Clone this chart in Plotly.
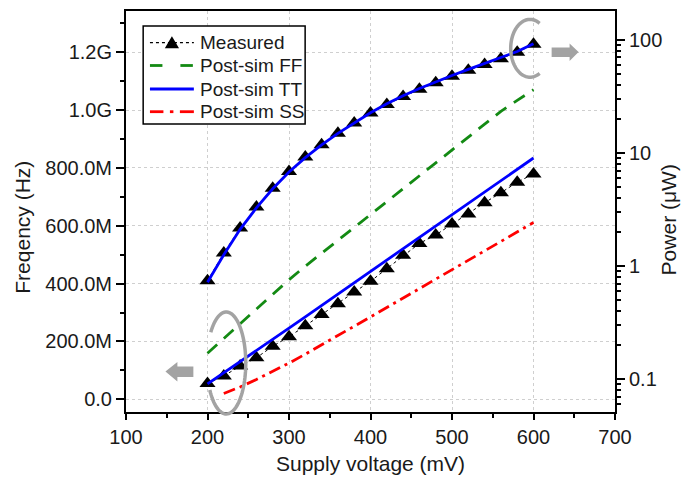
import math
import plotly.graph_objects as go

# ---------------- data ----------------
voltage_mv = [200, 220, 240, 260, 280, 300, 320, 340, 360, 380, 400,
              420, 440, 460, 480, 500, 520, 540, 560, 580, 600]
ss_voltage_mv = voltage_mv[1:]

measured_freq_mhz = [410, 506, 592, 665, 730, 788, 838, 880, 920, 956, 990,
                     1020, 1047, 1072, 1095, 1117, 1138, 1158, 1178, 1200, 1228]
tt_freq_mhz = [405, 500, 588, 662, 728, 786, 836, 880, 920, 957, 991,
               1022, 1050, 1075, 1098, 1120, 1141, 1161, 1181, 1203, 1230]

measured_power_uw = [0.092, 0.107, 0.131, 0.155, 0.196, 0.238, 0.297, 0.375, 0.465, 0.590, 0.735,
                     0.95, 1.25, 1.59, 1.89, 2.36, 2.90, 3.64, 4.46, 5.52, 6.54]
tt_power_uw = [0.091, 0.114, 0.142, 0.178, 0.224, 0.283, 0.357, 0.450, 0.566, 0.714, 0.900,
               1.13, 1.42, 1.78, 2.24, 2.82, 3.56, 4.48, 5.65, 7.15, 9.05]
ff_power_uw = [0.170, 0.229, 0.309, 0.417, 0.562, 0.759, 1.00, 1.30, 1.70, 2.21, 2.88,
               3.76, 4.90, 6.31, 8.22, 10.7, 14.0, 18.2, 23.4, 29.2, 36.3]
ss_power_uw = [0.0749, 0.0855, 0.0996, 0.117, 0.139, 0.167, 0.201, 0.244, 0.296, 0.356,
               0.432, 0.524, 0.635, 0.763, 0.925, 1.12, 1.36, 1.65, 2.00, 2.43]

x_ticks = [100, 200, 300, 400, 500, 600, 700]
freq_tick_vals = [0, 200e6, 400e6, 600e6, 800e6, 1.0e9, 1.2e9]
freq_tick_text = ["0.0", "200.0M", "400.0M", "600.0M", "800.0M", "1.0G", "1.2G"]
power_tick_vals = [0.1, 1, 10, 100]
power_tick_text = ["0.1", "1", "10", "100"]

legend_names = ["Measured", "Post-sim FF", "Post-sim TT", "Post-sim SS"]

# ---------------- layout constants ----------------
W, H = 693, 477
L, R, T, B = 125.5, 615.5, 11, 412
FONT = "Liberation Sans, Arial, sans-serif"
GRAY = "#a3a3a3"
TXT = "#1a1a1a"
GREEN = "#138a13"
BLUE = "#0000ff"
RED = "#ff0000"


def to_paper(px, py):
    return ((px - L) / (R - L), (B - py) / (B - T))


def path_from_px(points, close=False):
    parts = []
    for i, (px, py) in enumerate(points):
        x, y = to_paper(px, py)
        parts.append(("M" if i == 0 else "L") + f"{x:.5f},{y:.5f}")
    s = " ".join(parts)
    if close:
        s += " Z"
    return s


def arc_points(cx, cy, rx, ry, t0, t1, n=80):
    pts = []
    for i in range(n + 1):
        t = math.radians(t0 + (t1 - t0) * i / n)
        pts.append((cx + rx * math.cos(t), cy + ry * math.sin(t)))
    return pts


def seg(x0, y0, x1, y1, color, width, dash="solid"):
    a = to_paper(x0, y0)
    b = to_paper(x1, y1)
    return dict(type="line", xref="paper", yref="paper", x0=a[0], y0=a[1], x1=b[0], y1=b[1],
                line=dict(color=color, width=width, dash=dash))


fig = go.Figure()

meas_style = dict(color="black", width=1, dash="3px,3px")
meas_marker = dict(symbol="triangle-up", size=14, color="black")

fig.add_trace(go.Scatter(
    x=voltage_mv, y=[v * 1e6 for v in measured_freq_mhz], mode="lines+markers",
    line=meas_style, marker=meas_marker, name=legend_names[0], yaxis="y"))
fig.add_trace(go.Scatter(
    x=voltage_mv, y=measured_power_uw, mode="lines+markers",
    line=meas_style, marker=meas_marker, name=legend_names[0], yaxis="y2"))
fig.add_trace(go.Scatter(
    x=voltage_mv, y=ff_power_uw, mode="lines",
    line=dict(color=GREEN, width=2.8, dash="13px,9px"),
    name=legend_names[1], yaxis="y2"))
fig.add_trace(go.Scatter(
    x=voltage_mv, y=[v * 1e6 for v in tt_freq_mhz], mode="lines",
    line=dict(color=BLUE, width=2.8), name=legend_names[2], yaxis="y"))
fig.add_trace(go.Scatter(
    x=voltage_mv, y=tt_power_uw, mode="lines",
    line=dict(color=BLUE, width=2.8), name=legend_names[2], yaxis="y2"))
fig.add_trace(go.Scatter(
    x=ss_voltage_mv, y=ss_power_uw, mode="lines",
    line=dict(color=RED, width=2.8, dash="12px,5px,3px,5px"),
    name=legend_names[3], yaxis="y2"))

# ---------------- decorations (ellipses, arrows) ----------------
shapes = []
shapes.append(dict(type="path", xref="paper", yref="paper",
                   path=path_from_px(arc_points(226, 363, 19.5, 51, 217, 508)),
                   line=dict(color=GRAY, width=3.5)))
shapes.append(dict(type="path", xref="paper", yref="paper",
                   path=path_from_px(arc_points(530.3, 48.3, 19.3, 28.9, 300, 60)),
                   line=dict(color=GRAY, width=3.5)))
shapes.append(dict(type="path", xref="paper", yref="paper",
                   path=path_from_px([(165, 371.5), (177, 362), (177, 366.5), (193, 366.5),
                                      (193, 377), (177, 377), (177, 381.5)], close=True),
                   fillcolor=GRAY, line=dict(width=0)))
shapes.append(dict(type="path", xref="paper", yref="paper",
                   path=path_from_px([(579, 52), (570, 43.5), (570, 47.5), (552, 47.5),
                                      (552, 57), (570, 57), (570, 61)], close=True),
                   fillcolor=GRAY, line=dict(width=0)))

# ---------------- custom legend ----------------
lx0, ly0, lx1, ly1 = 142.7, 26, 305, 124
a = to_paper(lx0, ly1)
b = to_paper(lx1, ly0)
shapes.append(dict(type="rect", xref="paper", yref="paper", x0=a[0], y0=a[1], x1=b[0], y1=b[1],
                   fillcolor="white", line=dict(color="black", width=1.5), layer="above"))
row_y = [42.7, 65.5, 89, 111.7]
sx0, sx1 = 149.5, 193.5
shapes.append(seg(sx0, row_y[0], sx1, row_y[0], "black", 1.2, "3px,3px"))
tri_cx, tri_cy, tri_r = 171.5, row_y[0] + 1, 7.5
shapes.append(dict(type="path", xref="paper", yref="paper",
                   path=path_from_px([(tri_cx, tri_cy - tri_r), (tri_cx + tri_r * 0.95, tri_cy + tri_r * 0.6),
                                      (tri_cx - tri_r * 0.95, tri_cy + tri_r * 0.6)], close=True),
                   fillcolor="black", line=dict(width=0)))
shapes.append(seg(149.5, row_y[1], 162, row_y[1], GREEN, 2.8))
shapes.append(seg(180, row_y[1], 192.5, row_y[1], GREEN, 2.8))
shapes.append(seg(sx0, row_y[2], sx1, row_y[2], BLUE, 2.8))
shapes.append(seg(149.5, row_y[3], 163, row_y[3], RED, 2.8))
shapes.append(seg(169.5, row_y[3], 173, row_y[3], RED, 2.8))
shapes.append(seg(179.5, row_y[3], 193.5, row_y[3], RED, 2.8))

annotations = []
for name, ry in zip(legend_names, row_y):
    px, py = to_paper(198, ry)
    annotations.append(dict(text=name, x=px, y=py, xref="paper", yref="paper",
                            xanchor="left", yanchor="middle", showarrow=False,
                            font=dict(family=FONT, size=19, color=TXT)))

# axis titles
tx, ty = to_paper(370.5, 464)
annotations.append(dict(text="Supply voltage (mV)", x=tx, y=ty, xref="paper", yref="paper",
                        xanchor="center", yanchor="middle", showarrow=False,
                        font=dict(family=FONT, size=21, color=TXT)))
tx, ty = to_paper(21, 227)
annotations.append(dict(text="Freqency (Hz)", x=tx, y=ty, xref="paper", yref="paper",
                        xanchor="center", yanchor="middle", showarrow=False, textangle=-90,
                        font=dict(family=FONT, size=21, color=TXT)))
tx, ty = to_paper(669, 220)
annotations.append(dict(text="Power (μW)", x=tx, y=ty, xref="paper", yref="paper",
                        xanchor="center", yanchor="middle", showarrow=False, textangle=-90,
                        font=dict(family=FONT, size=21, color=TXT)))

axis_common = dict(showline=True, linecolor="black", linewidth=2,
                   ticks="outside", tickcolor="black", tickwidth=1.5,
                   tickfont=dict(family=FONT, size=20, color=TXT),
                   zeroline=False, automargin=False)

fig.update_layout(
    template="none",
    width=W, height=H,
    margin=dict(l=L, r=W - R, t=T, b=H - B, pad=0, autoexpand=False),
    paper_bgcolor="white", plot_bgcolor="white",
    font=dict(family=FONT, color=TXT),
    showlegend=False,
    xaxis=dict(axis_common, range=[100, 700], tickmode="array", tickvals=x_ticks,
               ticklen=6, mirror=True,
               showgrid=True, gridcolor="#cfcfcf", griddash="dot", gridwidth=1,
               minor=dict(tickmode="array", tickvals=[150, 250, 350, 450, 550, 650],
                          ticks="outside", ticklen=4, tickcolor="black", tickwidth=1.5,
                          showgrid=False)),
    yaxis=dict(axis_common, range=[-44e6, 1.343e9], tickmode="array",
               tickvals=freq_tick_vals, ticktext=freq_tick_text, ticklen=8,
               showgrid=True, gridcolor="#cfcfcf", griddash="dot", gridwidth=1,
               minor=dict(tickmode="array", tickvals=[100e6, 300e6, 500e6, 700e6, 900e6, 1.1e9, 1.3e9],
                          ticks="outside", ticklen=4, tickcolor="black", tickwidth=1.5,
                          showgrid=False)),
    yaxis2=dict(axis_common, type="log", overlaying="y", side="right",
                range=[-1.289, 2.256], tickmode="array",
                tickvals=power_tick_vals, ticktext=power_tick_text, ticklen=8,
                showgrid=False,
                minor=dict(tickmode="array",
                           tickvals=[0.06, 0.07, 0.08, 0.09,
                                     0.2, 0.3, 0.4, 0.5, 0.6, 0.7, 0.8, 0.9,
                                     2, 3, 4, 5, 6, 7, 8, 9,
                                     20, 30, 40, 50, 60, 70, 80, 90],
                           ticks="outside", ticklen=4, tickcolor="black", tickwidth=1.5,
                           showgrid=False)),
    shapes=shapes,
    annotations=annotations,
)

fig.write_html("out.html",
               config={"displayModeBar": False},
               post_script="document.body.style.margin='0';document.body.style.padding='0';")
